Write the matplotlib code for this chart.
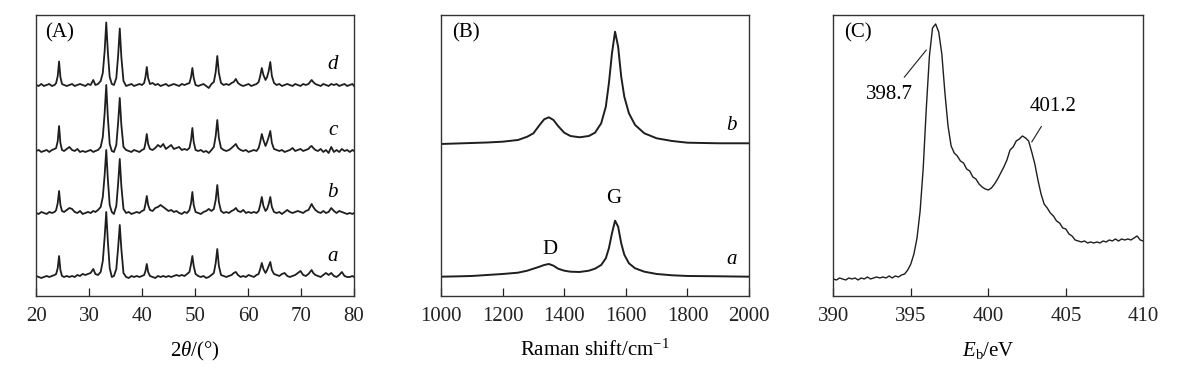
import matplotlib
matplotlib.use("Agg")
import matplotlib.pyplot as plt

plt.rcParams['font.family'] = ['Liberation Serif', 'DejaVu Serif']
plt.rcParams['mathtext.fontset'] = 'custom'
plt.rcParams['mathtext.rm'] = 'Liberation Serif'
plt.rcParams['mathtext.it'] = 'Liberation Serif:italic'

# ---- (A) XRD patterns, intensity above each pattern's own baseline ----
two_theta = [
    20, 20.5, 21, 21.5, 22, 22.5, 23, 23.5,
    23.8, 24.1, 24.35, 24.6, 24.9,
    25.3, 25.8, 26.3, 26.8, 27.3, 27.8, 28.3, 28.8, 29.3, 29.8, 30.3, 30.8, 31.2, 31.7, 32.2,
    32.6, 32.95, 33.25, 33.55, 33.9,
    34.3, 34.7,
    35.15, 35.5, 35.8, 36.1, 36.5,
    37.0, 37.5, 38.0, 38.5, 39.0, 39.5, 40.0,
    40.4, 40.65, 40.9, 41.15, 41.5,
    42.0, 42.5, 43.0, 43.5, 44.0, 44.5, 45.0, 45.5, 46.0, 46.5, 47.0, 47.5, 48.0, 48.5,
    48.95, 49.25, 49.5, 49.75, 50.1,
    50.6, 51.1, 51.6, 52.1, 52.6, 53.1,
    53.55, 53.9, 54.2, 54.5, 54.9,
    55.4, 55.9, 56.4, 56.9,
    57.3, 57.7, 58.1,
    58.6, 59.1, 59.6, 60.1, 60.6, 61.1, 61.6,
    62.0, 62.3, 62.6, 62.9, 63.3, 63.6, 63.9, 64.2, 64.5, 64.9,
    65.4, 65.9, 66.4, 66.9, 67.4, 67.9, 68.4, 68.9, 69.4, 69.9, 70.4, 70.9,
    71.4, 71.7, 72.0, 72.3, 72.7,
    73.2, 73.7, 74.2, 74.7, 75.2, 75.7, 76.2, 76.7, 77.2, 77.7, 78.2, 78.7, 79.2, 79.7, 80.0]

xrd_a = [
    1, 0, -1, 0, 1, 0, 1, 2,
    3, 9, 21, 7, 1,
    0, 1, 0, 1, 0, 2, 1, 3, 2, 3, 4, 8, 3, 2, 5,
    16, 40, 65, 36, 9,
    0, 1,
    8, 30, 52, 28, 4,
    0, -1, 1, 0, 1, 0, 1,
    2, 6, 13, 5, 1,
    0, -1, 1, 0, 1, 0, 1, 0, 1, 2, 1, 2, 1, 3,
    5, 13, 21, 11, 3,
    1, 0, 1, -1, 0, 2,
    4, 14, 28, 11, 2,
    1, 0, 1, 2,
    4, 5, 2,
    0, 1, 0, 2, 1, 0, 2,
    3, 8, 14, 8, 4, 7, 11, 15, 7, 3,
    2, 1, 3, 4, 1, 0, 1, 2, 4, 6, 2, 1,
    3, 5, 7, 4, 2,
    1, 0, 2, 4, 2, 4, 1, 0, 2, 5, 1, 0, 0, 1, 0]

xrd_b = [
    0, -1, 1, 0, -1, 1, 0, 1,
    3, 10, 22, 8, 2,
    1, 3, 5, 4, 1, 0, 2, -1, 0, 1, 0, 2, 1, 3, 6,
    16, 38, 63, 34, 8,
    1, -1,
    7, 30, 54, 27, 4,
    0, 1, -1, 0, 1, 0, 2,
    3, 9, 17, 8, 3,
    2, 5, 6, 8, 6, 4, 2, 3, 1, 2, 0, -1, 1, 0,
    3, 10, 21, 8, 1,
    0, -1, 1, 2, 4, 2,
    4, 13, 28, 11, 2,
    0, 1, 0, 2,
    3, 5, 2,
    1, 3, 0, 1, 0, 1, 0,
    2, 8, 16, 7, 2, 4, 9, 16, 6, 1,
    0, 1, -1, 1, 3, 1, 0, 1, 2, 1, 0, 2,
    3, 6, 9, 6, 3,
    1, 0, 2, 0, 1, 5, 2, 0, 2, 1, 0, -1, 0, -1, 0]

xrd_c = [
    0, 1, -1, 0, 1, -1, 1, 2,
    3, 10, 25, 8, 1,
    0, 2, 4, 1, 0, 2, -1, 0, -1, 0, 1, -1, 0, 1, 4,
    14, 38, 66, 34, 7,
    0, -1,
    6, 29, 53, 26, 4,
    1, 0, -1, 1, 0, -1, 1,
    2, 8, 17, 7, 2,
    1, 3, 6, 4, 7, 2, 4, 6, 2, 3, 4, 1, 2, 1,
    3, 11, 23, 9, 1,
    0, 1, -1, 0, -2, 1,
    4, 15, 31, 13, 3,
    1, 0, 1, 3,
    5, 7, 3,
    1, 0, 1, -1, 0, 1, 0,
    3, 9, 17, 11, 5, 9, 14, 20, 8, 2,
    1, 0, 1, -1, 0, 1, 3, 0, 1, 2, 0, 1,
    2, 4, 5, 3, 1,
    0, 2, -1, 1, -2, 4, -1, 1, -1, 2, 0, 1, -1, 1, 0]

xrd_d = [
    0, -1, 1, -1, 0, 1, -1, 0,
    2, 9, 23.5, 8, 1,
    0, -1, 0, 1, -1, 0, 1, 0, -1, 1, 0, 5, 0, 1, 4,
    12, 34, 62.5, 33, 8,
    1, 0,
    7, 30, 56.5, 28, 4,
    -1, 0, 1, -1, 0, 1, 0,
    2, 8, 18, 7, 1,
    2, 0, 1, -1, 0, 1, -1, 0, 1, 0, -1, 1, 0, 1,
    2, 8, 17, 7, 0,
    -1, 0, 1, -1, -3, 1,
    3, 13, 29, 12, 2,
    0, 1, 0, 2,
    3, 6, 2,
    0, -1, 0, 1, -1, 0, 1,
    3, 9, 17, 10, 5, 8, 14, 23, 9, 2,
    0, 1, -1, 0, 1, 0, -1, 1, 0, -1, 1, 0,
    1, 3, 5, 3, 1,
    0, -1, 1, 0, -1, 1, 0, 1, -1, 0, 1, -1, 0, 1, -1]

xrd_series = [xrd_a, xrd_b, xrd_c, xrd_d]
xrd_names = ['a', 'b', 'c', 'd']
xrd_offsets = [19, 83, 145, 211]

# ---- (B) Raman spectra ----
raman_shift = [1000, 1050, 1100, 1150, 1200, 1250, 1280, 1300, 1320, 1335, 1350,
               1365, 1380, 1400, 1420, 1450, 1480, 1500, 1520, 1535, 1545, 1555,
               1565, 1575, 1585, 1595, 1610, 1630, 1660, 1700, 1750, 1800, 1900, 2000]
raman_a = [19.3, 19.6, 20.0, 21.0, 22.0, 23.3, 25.3, 27.3, 29.3, 31.0, 32.0,
           30.3, 27.3, 25.3, 24.3, 24.0, 25.3, 27.3, 31.0, 37.7, 47.7, 62.7,
           75.3, 69.3, 52.7, 41.3, 32.7, 27.7, 24.3, 22.0, 20.7, 20.0, 19.7, 19.3]
raman_b = [152.0, 152.5, 153.0, 153.5, 154.3, 156.0, 159.3, 162.7, 171.0, 176.7, 178.7,
           176.0, 170.0, 163.3, 160.0, 158.7, 160.0, 163.3, 172.7, 189.3, 212.7, 242.7,
           264.3, 249.3, 219.3, 199.3, 182.7, 171.0, 162.7, 157.7, 155.0, 153.3, 152.7, 152.7]

# ---- (C) N 1s XPS ----
binding_energy = [390.0 + 0.2 * i for i in range(101)]
xps_counts = [
    17, 16, 18, 17, 16, 18, 17, 18, 16, 18,
    17, 19, 17, 18, 19, 18, 19, 18, 20, 18,
    20, 19, 21, 22, 26, 32, 42, 58, 85, 128,
    188, 240, 268, 272, 264, 242, 203, 170, 150, 143,
    140, 135, 133, 127, 125, 119, 117, 112, 109, 107,
    106, 108, 112, 117, 123, 129, 136, 146, 149, 155,
    157, 160, 158, 155, 144, 132, 116, 102, 92, 88,
    83, 80, 75, 73, 68, 67, 62, 60, 56, 55,
    54, 55, 53, 54, 53, 54, 53, 55, 54, 56,
    55, 57, 55, 57, 56, 57, 56, 58, 60, 56, 55]

line_color = '#1e1e1e'
fs = 15

fig = plt.figure(figsize=(11.77, 3.71), dpi=100)
axA = fig.add_axes([0.0306, 0.2022, 0.2702, 0.7574])
axB = fig.add_axes([0.3747, 0.2022, 0.2617, 0.7574])
axC = fig.add_axes([0.7080, 0.2022, 0.2634, 0.7574])

for ax in (axA, axB, axC):
    ax.tick_params(axis='x', direction='in', length=5.5, width=0.9, labelsize=fs,
                   pad=8, top=False, colors='#222222')
    ax.tick_params(axis='y', left=False, labelleft=False)
    for sp in ax.spines.values():
        sp.set_linewidth(1.0)
        sp.set_color('#333333')

# A
for name, ys, off in zip(xrd_names, xrd_series, xrd_offsets):
    axA.plot(two_theta, [v + off for v in ys], color=line_color, lw=1.3)
    axA.text(76, off + 20, name, fontsize=fs, style='italic', ha='center', va='center')
axA.set_xlim(20, 80)
axA.set_ylim(0, 281)
axA.set_xticks(range(20, 81, 10))
axA.set_xlabel(r'2$\mathit{\theta}$/(°)', fontsize=fs, labelpad=10)
axA.text(0.028, 0.935, '(A)', transform=axA.transAxes, fontsize=fs, va='center')

# B
axB.plot(raman_shift, raman_a, color=line_color, lw=1.4)
axB.plot(raman_shift, raman_b, color=line_color, lw=1.4)
axB.set_xlim(1000, 2000)
axB.set_ylim(0, 281)
axB.set_xticks(range(1000, 2001, 200))
axB.text(1944, 36, 'a', fontsize=fs, style='italic', ha='center', va='center')
axB.text(1944, 170, 'b', fontsize=fs, style='italic', ha='center', va='center')
axB.text(1354, 46, 'D', fontsize=fs, ha='center', va='center')
axB.text(1560, 97, 'G', fontsize=fs, ha='center', va='center')
axB.set_xlabel(r'Raman shift/cm$^{-1}$', fontsize=fs, labelpad=10)
axB.text(0.035, 0.935, '(B)', transform=axB.transAxes, fontsize=fs, va='center')

# C
axC.plot(binding_energy, xps_counts, color=line_color, lw=1.0)
axC.set_xlim(390, 410)
axC.set_ylim(0, 281)
axC.set_xticks(range(390, 411, 5))
axC.annotate('398.7', xy=(396.0, 246), xytext=(393.65, 201), fontsize=fs,
             ha='center', va='center',
             arrowprops=dict(arrowstyle='-', color=line_color, lw=0.8,
                             shrinkA=5, shrinkB=0))
axC.annotate('401.2', xy=(402.8, 154), xytext=(404.2, 189), fontsize=fs,
             ha='center', va='center',
             arrowprops=dict(arrowstyle='-', color=line_color, lw=0.8,
                             shrinkA=6, shrinkB=0))
axC.set_xlabel(r'$\mathit{E}_{\mathrm{b}}$/eV', fontsize=fs, labelpad=10)
axC.text(0.035, 0.935, '(C)', transform=axC.transAxes, fontsize=fs, va='center')

fig.savefig('out.png', dpi=100)
